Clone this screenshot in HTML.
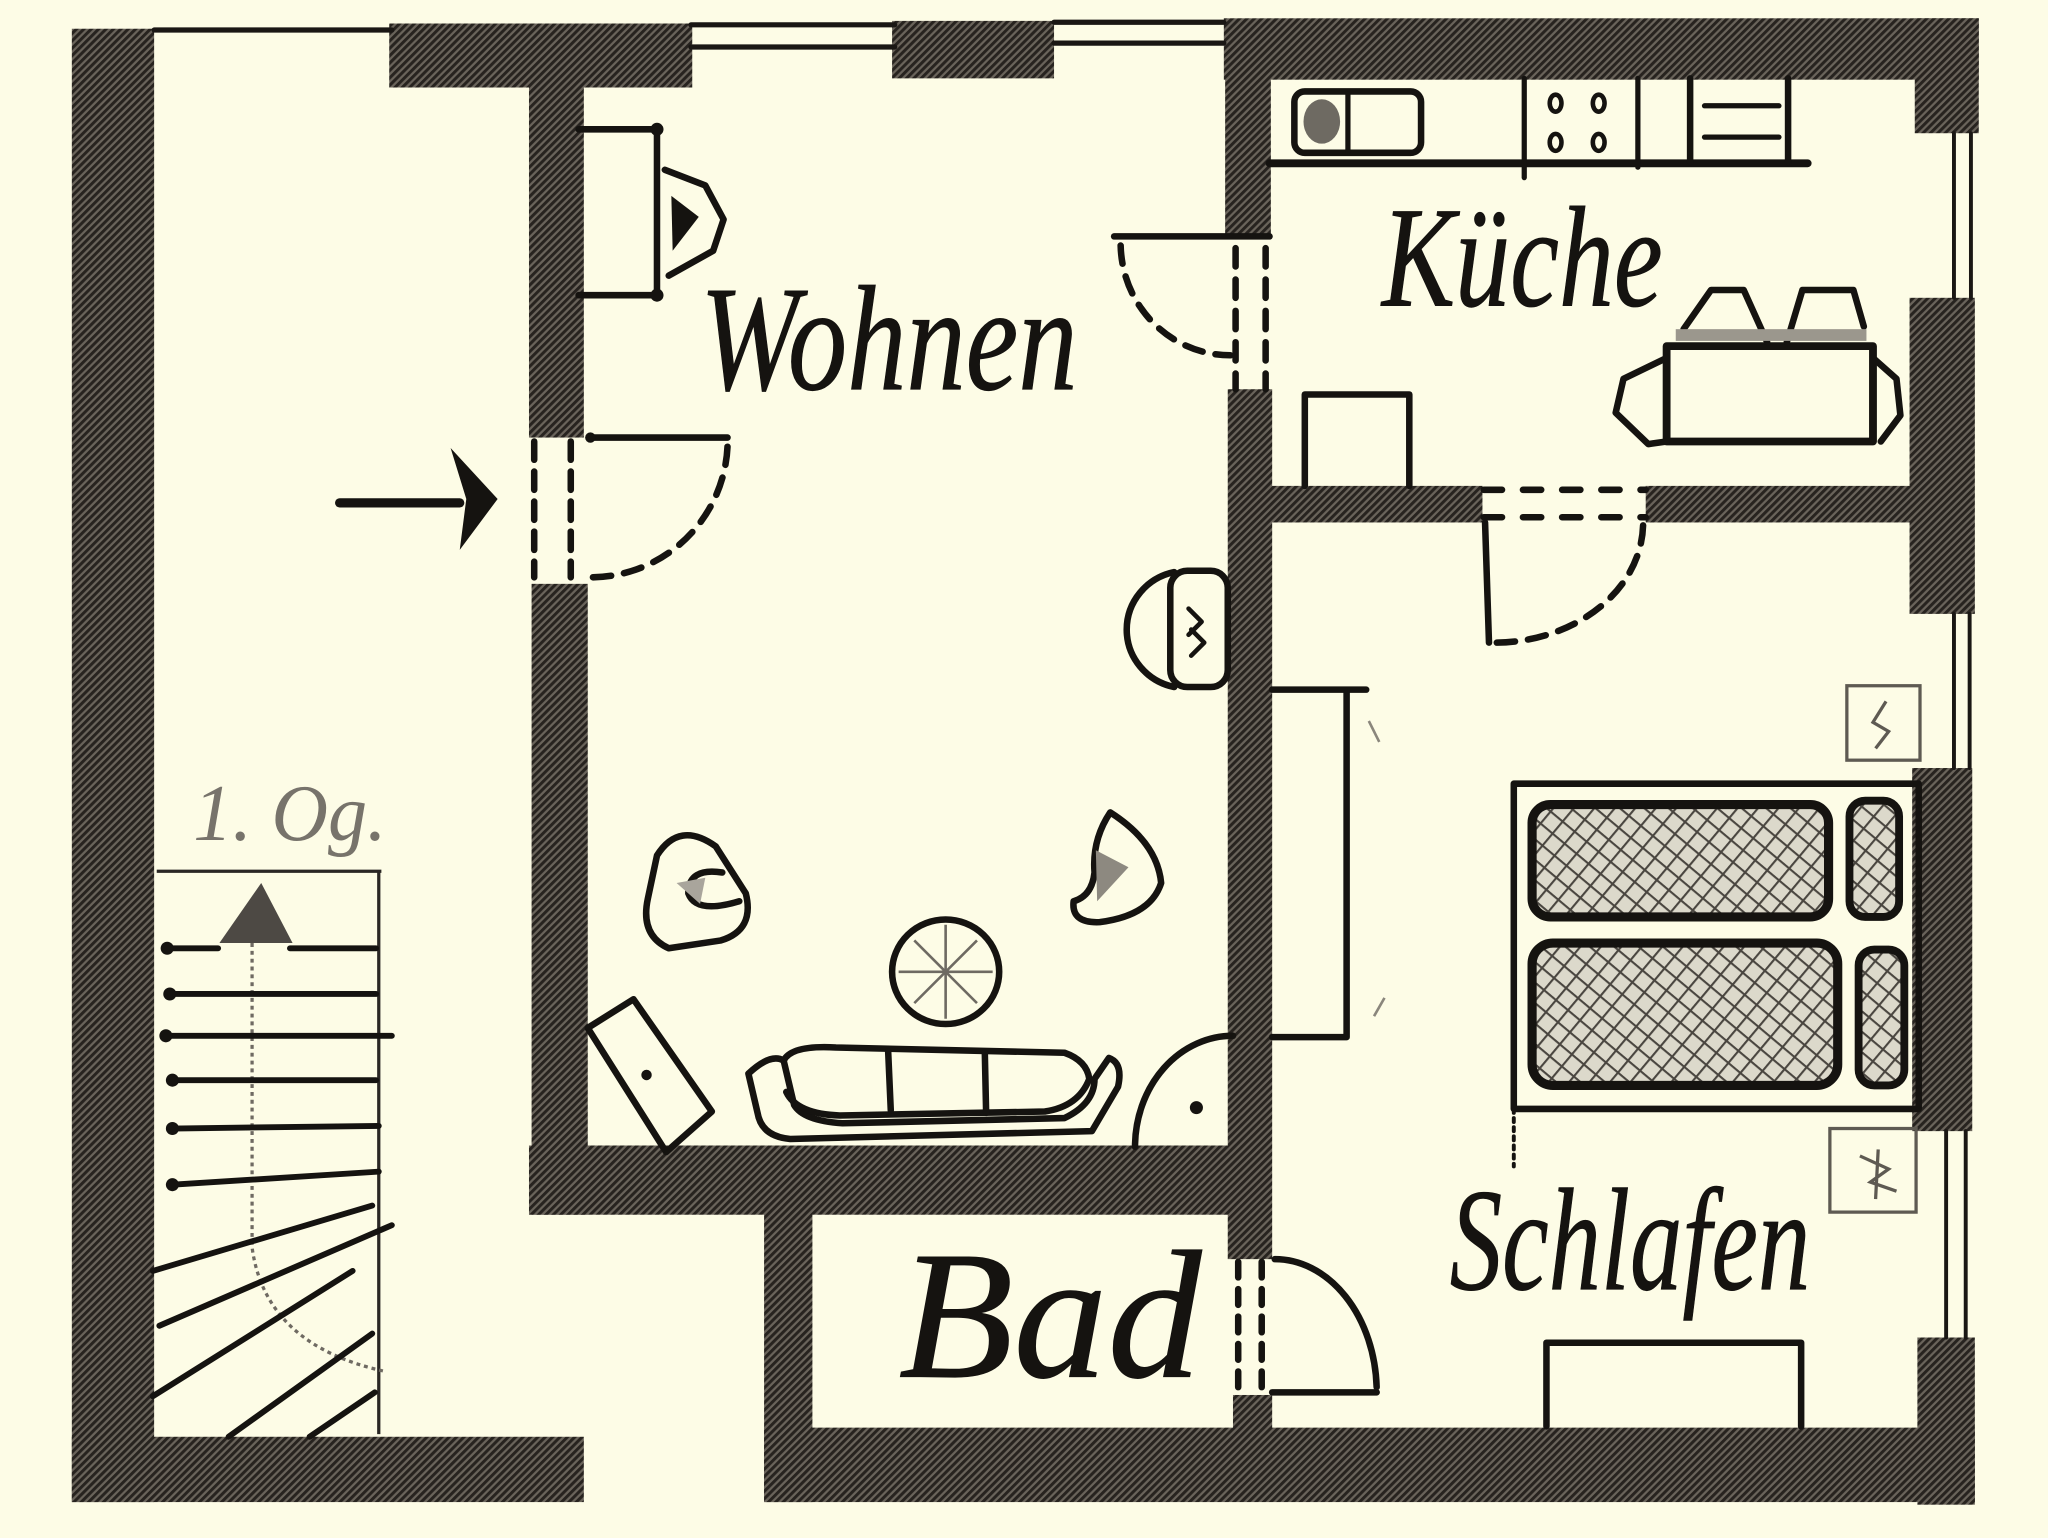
<!DOCTYPE html>
<html>
<head>
<meta charset="utf-8">
<style>
html,body{margin:0;padding:0;background:#fdfce6;}
svg{display:block;}
.lbl{font-family:"Liberation Serif",serif;font-style:italic;fill:#151310;stroke:#151310;stroke-width:0.6;}
</style>
</head>
<body>
<svg width="2048" height="1538" viewBox="0 0 1568 1177.5" preserveAspectRatio="none" xmlns="http://www.w3.org/2000/svg">
<defs>
  <pattern id="hatch" patternUnits="userSpaceOnUse" width="4" height="4" patternTransform="rotate(45)">
    <rect width="4" height="4" fill="#6a645b"/>
    <rect width="2.3" height="4" fill="#27231f"/>
  </pattern>
  <pattern id="cross" patternUnits="userSpaceOnUse" width="12" height="12" patternTransform="rotate(40)">
    <rect width="12" height="12" fill="#dcd9cb"/>
    <rect width="1.6" height="12" fill="#4a4640"/>
    <rect width="12" height="1.6" fill="#4a4640"/>
  </pattern>
</defs>
<rect width="1568" height="1178" fill="#fdfce6"/>

<!-- ===== WALLS ===== -->
<g fill="url(#hatch)">
  <rect x="55" y="22" width="63" height="1128"/>
  <rect x="55" y="1100" width="392" height="50"/>
  <rect x="298" y="18" width="232" height="49"/>
  <rect x="683" y="16" width="124" height="44"/>
  <rect x="937" y="14" width="578" height="47"/>
  <rect x="1466" y="14" width="49" height="88"/>
  <rect x="1462" y="228" width="50" height="242"/>
  <rect x="1464" y="588" width="46" height="278"/>
  <rect x="1468" y="1024" width="44" height="128"/>
  <rect x="585" y="1093" width="927" height="57"/>
  <rect x="585" y="877" width="37" height="273"/>
  <rect x="405" y="877" width="560" height="53"/>
  <rect x="405" y="60" width="42" height="275"/>
  <rect x="407" y="447" width="43" height="483"/>
  <rect x="938" y="60" width="35" height="122"/>
  <rect x="940" y="298" width="34" height="666"/>
  <rect x="944" y="1068" width="30" height="30"/>
  <rect x="973" y="372" width="162" height="28"/>
  <rect x="1260" y="372" width="204" height="28"/>
</g>

<!-- windows / thin lines -->
<g stroke="#1a1714" stroke-width="4" fill="none" stroke-linecap="round">
  <line x1="118" y1="23" x2="300" y2="23"/>
  <line x1="529" y1="19" x2="685" y2="19"/>
  <line x1="529" y1="36" x2="685" y2="36"/>
  <line x1="807" y1="17" x2="937" y2="17"/>
  <line x1="807" y1="33" x2="937" y2="33"/>
  <line x1="1496" y1="102" x2="1496" y2="228" stroke-width="3"/>
  <line x1="1509" y1="102" x2="1509" y2="228" stroke-width="3"/>
  <line x1="1496" y1="470" x2="1496" y2="588" stroke-width="3"/>
  <line x1="1508" y1="470" x2="1508" y2="588" stroke-width="3"/>
  <line x1="1490" y1="866" x2="1490" y2="1024" stroke-width="3"/>
  <line x1="1505" y1="866" x2="1505" y2="1024" stroke-width="3"/>
</g>

<!-- ===== DOORS ===== -->
<g stroke="#151310" stroke-width="5" fill="none" stroke-linecap="round">
  <line x1="452" y1="335" x2="557" y2="335"/>
  <path d="M557,342 A105,105 0 0 1 452,442" stroke-dasharray="14 10"/>
  <line x1="409" y1="338" x2="409" y2="442" stroke-dasharray="14 9"/>
  <line x1="437" y1="338" x2="437" y2="442" stroke-dasharray="14 9"/>
  <line x1="853" y1="181" x2="972" y2="181"/>
  <path d="M858,188 A84,86 0 0 0 942,272" stroke-dasharray="14 10"/>
  <line x1="946" y1="190" x2="946" y2="298" stroke-dasharray="14 10"/>
  <line x1="969" y1="190" x2="969" y2="298" stroke-dasharray="14 10"/>
  <line x1="1137" y1="400" x2="1140" y2="492"/>
  <path d="M1146,492 A114,92 0 0 0 1258,402" stroke-dasharray="14 10"/>
  <line x1="1136" y1="375" x2="1260" y2="375" stroke-dasharray="14 16"/>
  <line x1="1136" y1="396" x2="1260" y2="396" stroke-dasharray="14 16"/>
  <line x1="974" y1="1066" x2="1054" y2="1066"/>
  <path d="M976,964 A78,102 0 0 1 1054,1062"/>
  <line x1="948" y1="966" x2="948" y2="1068" stroke-dasharray="12 9"/>
  <line x1="966" y1="966" x2="966" y2="1068" stroke-dasharray="12 9"/>
  <path d="M869,878 A75,85 0 0 1 944,793"/>
</g>
<circle cx="916" cy="848" r="5" fill="#151310"/>

<!-- entrance arrow -->
<line x1="260" y1="385" x2="352" y2="385" stroke="#151310" stroke-width="7" stroke-linecap="round"/>
<polygon points="345,343 381,382 352,421 357,382" fill="#151310"/>

<!-- ===== STAIRS ===== -->
<g stroke="#2a2724" stroke-width="2.5" fill="none">
  <line x1="120" y1="667" x2="292" y2="667"/>
  <line x1="290" y1="667" x2="290" y2="1098"/>
</g>
<path d="M193,722 L193,955 Q203,1030 295,1050" stroke="#6f6a62" stroke-width="2.5" fill="none" stroke-dasharray="3 3"/>
<polygon points="200,676 168,722 224,722" fill="#4d4944"/>
<g stroke="#151310" stroke-width="4.5" stroke-linecap="round" fill="none">
  <line x1="128" y1="726" x2="167" y2="726"/>
  <line x1="222" y1="726" x2="288" y2="726"/>
  <line x1="130" y1="761" x2="288" y2="761"/>
  <line x1="127" y1="793" x2="300" y2="793"/>
  <line x1="132" y1="827" x2="288" y2="827"/>
  <line x1="132" y1="864" x2="290" y2="862"/>
  <line x1="132" y1="907" x2="290" y2="897"/>
  <line x1="117" y1="973" x2="285" y2="923"/>
  <line x1="122" y1="1015" x2="300" y2="938"/>
  <line x1="117" y1="1069" x2="270" y2="973"/>
  <line x1="175" y1="1100" x2="285" y2="1021"/>
  <line x1="237" y1="1100" x2="287" y2="1066"/>
</g>
<g fill="#151310">
  <circle cx="128" cy="726" r="5"/>
  <circle cx="130" cy="761" r="5"/>
  <circle cx="127" cy="793" r="5"/>
  <circle cx="132" cy="827" r="5"/>
  <circle cx="132" cy="864" r="5"/>
  <circle cx="132" cy="907" r="5"/>
</g>
<text x="148" y="643" font-family="Liberation Serif, serif" font-style="italic" font-size="62" fill="#77736b" textLength="148" lengthAdjust="spacingAndGlyphs">1. Og.</text>

<!-- ===== WOHNEN FURNITURE ===== -->
<g stroke="#151310" stroke-width="5" fill="none" stroke-linecap="round" stroke-linejoin="round">
  <path d="M443,99 L503,99 L503,226 L443,226"/>
  <path d="M509,130 L540,142 L554,168 L546,192 L512,211"/>
  <path d="M899,438 A46,45 0 0 0 899,526"/>
  <rect x="896" y="437" width="44" height="89" rx="13"/>
  <path d="M910,466 L920,476 L910,486 M912,482 L922,492 L912,502" stroke-width="3.5"/>
  <path d="M503,655 Q520,628 548,648 L571,684 Q578,712 552,720 L512,726 Q490,716 496,688 Z"/>
  <path d="M553,668 Q527,664 527,684 Q533,700 566,690"/>
  <path d="M850,622 Q886,645 889,676 Q881,701 842,706 Q820,707 822,690 Q836,686 838,668 Q836,643 850,622 Z"/>
  <ellipse cx="724" cy="744" rx="41" ry="40"/>
  <polygon points="450,787 485,765 545,851 510,882"/>
  <path d="M573,822 Q590,806 600,812 L608,846 Q615,858 645,860 L815,856 Q838,845 838,826 L849,810 Q860,814 856,832 L836,866 L605,872 Q583,870 580,852 Z"/>
  <path d="M600,812 Q606,800 640,802 L815,806 Q832,812 834,826 Q826,847 800,851 L643,854 Q610,853 602,836"/>
  <line x1="680" y1="805" x2="682" y2="850"/>
  <line x1="754" y1="806" x2="755" y2="852"/>
</g>
<g fill="#151310">
  <circle cx="503" cy="99" r="5"/>
  <circle cx="503" cy="226" r="5"/>
  <polygon points="514,150 535,166 515,192"/>
  <circle cx="495" cy="823" r="4"/>
  <circle cx="452" cy="335" r="4"/>
</g>
<polygon points="839,651 864,664 840,690" fill="#8d8980"/>
<polygon points="518,676 540,672 536,692" fill="#a9a59c"/>
<g stroke="#6e6a62" stroke-width="2" fill="none">
  <line x1="700" y1="720" x2="748" y2="768"/>
  <line x1="748" y1="720" x2="700" y2="768"/>
  <line x1="724" y1="708" x2="724" y2="780"/>
  <line x1="688" y1="744" x2="760" y2="744"/>
</g>

<!-- ===== KUECHE FURNITURE ===== -->
<g stroke="#151310" stroke-width="5" fill="none" stroke-linecap="round" stroke-linejoin="round">
  <line x1="972" y1="125" x2="1384" y2="125" stroke-width="6"/>
  <rect x="991" y="70" width="97" height="47" rx="8"/>
  <line x1="1032" y1="72" x2="1032" y2="116" stroke-width="4"/>
  <line x1="1167" y1="60" x2="1167" y2="136" stroke-width="4"/>
  <line x1="1254" y1="60" x2="1254" y2="128" stroke-width="4"/>
  <ellipse cx="1191" cy="79" rx="4.5" ry="6.5" stroke-width="3.5"/>
  <ellipse cx="1224" cy="79" rx="4.5" ry="6.5" stroke-width="3.5"/>
  <ellipse cx="1191" cy="109" rx="4.5" ry="6.5" stroke-width="3.5"/>
  <ellipse cx="1224" cy="109" rx="4.5" ry="6.5" stroke-width="3.5"/>
  <path d="M1294,60 L1294,124 M1369,60 L1369,124"/>
  <line x1="1305" y1="81" x2="1362" y2="81" stroke-width="4"/>
  <line x1="1305" y1="105" x2="1362" y2="105" stroke-width="4"/>
  <path d="M999,372 L999,302 L1079,302 L1079,372"/>
  <rect x="1276" y="265" width="158" height="73" stroke-width="6"/>
  <path d="M1276,274 L1243,290 L1237,316 L1262,340 L1276,338"/>
  <path d="M1434,274 L1452,290 L1455,318 L1440,338"/>
  <path d="M1289,252 L1310,222 L1335,222 L1353,262"/>
  <path d="M1368,262 L1380,222 L1419,222 L1427,250"/>
  <path d="M974,528 L1046,528 M1031,528 L1031,794 L974,794"/>
  <rect x="1159" y="600" width="310" height="249"/>
  <line x1="1159" y1="849" x2="1159" y2="893" stroke-width="3" stroke-dasharray="3 4"/>
  <path d="M1184,1092 L1184,1028 L1379,1028 L1379,1092"/>
</g>
<rect x="1283" y="252" width="146" height="9" fill="#9b978d"/>
<ellipse cx="1012" cy="93" rx="14" ry="17" fill="#6e6a62"/>
<g stroke="#8a867c" stroke-width="2" fill="none">
  <line x1="1048" y1="552" x2="1056" y2="568"/>
  <line x1="1052" y1="778" x2="1060" y2="764"/>
</g>

<!-- ===== BEDS ===== -->
<g stroke="#151310" stroke-width="7" stroke-linejoin="round">
  <rect x="1173" y="616" width="227" height="86" rx="14" fill="url(#cross)"/>
  <rect x="1173" y="722" width="234" height="109" rx="16" fill="url(#cross)"/>
  <rect x="1416" y="613" width="38" height="89" rx="12" fill="url(#cross)" stroke-width="6"/>
  <rect x="1423" y="727" width="35" height="104" rx="12" fill="url(#cross)" stroke-width="6"/>
</g>
<g stroke="#5e5a52" stroke-width="2.5" fill="none">
  <rect x="1414" y="525" width="56" height="57"/>
  <rect x="1401" y="864" width="66" height="64"/>
  <path d="M1444,537 L1434,553 L1446,560 L1436,573"/>
  <path d="M1424,885 L1446,895 L1432,905 L1452,912 M1438,880 L1436,918"/>
</g>

<!-- ===== LABELS ===== -->
<text class="lbl" x="536" y="298" font-size="115" textLength="289" lengthAdjust="spacingAndGlyphs">Wohnen</text>
<text class="lbl" x="1058" y="234" font-size="110" textLength="215" lengthAdjust="spacingAndGlyphs">Küche</text>
<text class="lbl" x="688" y="1054" font-size="140" textLength="232" lengthAdjust="spacingAndGlyphs">Bad</text>
<text class="lbl" x="1110" y="987" font-size="112" textLength="276" lengthAdjust="spacingAndGlyphs">Schlafen</text>
</svg>
</body>
</html>
